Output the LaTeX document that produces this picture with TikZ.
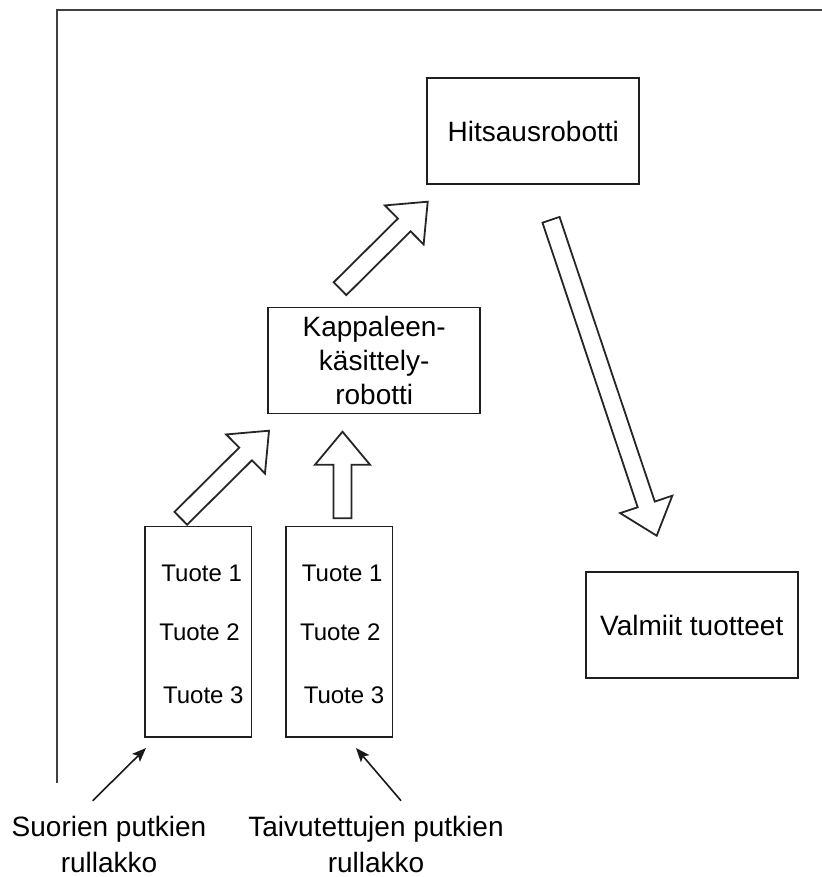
\documentclass[tikz,border=0pt]{standalone}
\usepackage{fontspec}
\setmainfont{Liberation Sans}
\usetikzlibrary{calc,arrows.meta}

% Hollow block arrow: #1 name prefix, #2 tail coordinate, #3 tip coordinate
\newcommand\blockarrow[3]{%
  \coordinate (#1-hb) at ($(#3)!33pt!(#2)$);
  \draw[blockline]
    ($(#2)!9pt!90:(#3)$) --
    ($(#1-hb)!9pt!90:(#3)$) --
    ($(#1-hb)!27.5pt!90:(#3)$) --
    (#3) --
    ($(#1-hb)!27.5pt!-90:(#3)$) --
    ($(#1-hb)!9pt!-90:(#3)$) --
    ($(#2)!9pt!-90:(#3)$) -- cycle;
}

\begin{document}
\begin{tikzpicture}[x=1pt,y=-1pt,
  box/.style={draw=black!88, line width=1.8pt, fill=white, inner sep=0pt,
    align=center, font=\fontsize{28}{34}\selectfont},
  item/.style={inner sep=0pt, font=\fontsize{24}{28}\selectfont},
  caption/.style={inner sep=0pt, align=center, font=\fontsize{28}{36}\selectfont},
  blockline/.style={draw=black!85, line width=1.8pt, line join=miter, fill=white},
  feed/.style={draw=black!90, line width=1.6pt,
    -{Stealth[length=14pt, width=11pt, inset=3pt]}},
  frame/.style={draw=black!75, line width=2pt}
]
\useasboundingbox (0,0) rectangle (821,877);

% cell boundary
\draw[frame] (57,783) -- (57,10) -- (822,10);

% stations
\node[box, minimum width=212pt, minimum height=106pt] (weld) at (533.3,131.3) {Hitsausrobotti};
\node[box, minimum width=212pt, minimum height=106pt] (handler) at (374.2,360.5)
  {Kappaleen-\\käsittely-\\robotti};
\node[box, minimum width=212pt, minimum height=106pt] (done) at (691.8,625.3) {Valmiit tuotteet};

% trolleys
\node[box, minimum width=106.5pt, minimum height=210.5pt] (cartA) at (198.3,631.8) {};
\node[box, minimum width=106.5pt, minimum height=210.5pt] (cartB) at (339.2,631.8) {};

\node[item] (a1) at (201.7,573) {Tuote 1};
\node[item] (a2) at (199.5,632) {Tuote 2};
\node[item] (a3) at (203.3,695) {Tuote 3};
\node[item] (b1) at (342.2,573) {Tuote 1};
\node[item] (b2) at (340.3,632) {Tuote 2};
\node[item] (b3) at (344.0,695) {Tuote 3};

% flow arrows
\coordinate (fA-tail) at (340,288.7);
\coordinate (fA-tip)  at (427.7,201.7);
\coordinate (fB-tail) at (180.8,518.3);
\coordinate (fB-tip)  at (269,430.7);
\coordinate (fC-tail) at (342.5,518.3);
\coordinate (fC-tip)  at (342.5,431.7);
\coordinate (fD-tail) at (551,219.8);
\coordinate (fD-tip)  at (656.7,535.7);
\blockarrow{fA}{fA-tail}{fA-tip}
\blockarrow{fB}{fB-tail}{fB-tip}
\blockarrow{fC}{fC-tail}{fC-tip}
\blockarrow{fD}{fD-tail}{fD-tip}

% trolley captions
\node[caption] (capA) at (109,844.5) {Suorien putkien\\rullakko};
\node[caption] (capB) at (376,844.5) {Taivutettujen putkien\\rullakko};

\coordinate (inA-from) at (92.7,800.7);
\coordinate (inA-to)   at (146,748);
\coordinate (inB-from) at (401,800.7);
\coordinate (inB-to)   at (356,748);
\draw[feed] (inA-from) -- (inA-to);
\draw[feed] (inB-from) -- (inB-to);
\end{tikzpicture}
\end{document}
